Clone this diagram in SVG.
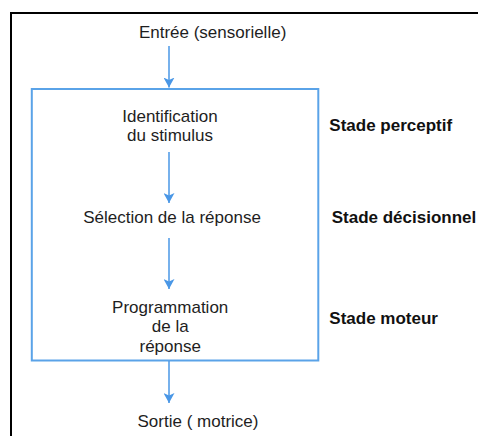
<svg xmlns="http://www.w3.org/2000/svg" width="478" height="436" viewBox="0 0 478 436">
<style>
.t{font-family:"Liberation Sans",Arial,sans-serif;font-size:17px;fill:#1e1e1e;}
.c{text-anchor:middle;}
.b{font-weight:bold;fill:#111;}
.ln{stroke:#4a97e6;stroke-width:1.5;fill:none;}
</style>
<defs>
<marker id="ah" viewBox="0 0 10 11" markerWidth="10" markerHeight="11" markerUnits="userSpaceOnUse" refX="10" refY="5.5" orient="auto">
<path d="M0,0 L10,5.5 L0,11 L2.5,5.5 z" fill="#4a97e6"/>
</marker>
</defs>
<rect x="0" y="0" width="478" height="436" fill="#fff"/>
<rect id="frame" x="11" y="13" width="490" height="460" fill="none" stroke="#000" stroke-width="2"/>
<g id="box">
<rect x="31.8" y="89" width="286.5" height="271.5" fill="none" stroke="#5aa3e8" stroke-width="2"/>
</g>
<g id="connectors">
<line class="ln" x1="169" y1="46" x2="169" y2="87.5" marker-end="url(#ah)"/>
<line class="ln" x1="169" y1="152" x2="169" y2="203" marker-end="url(#ah)"/>
<line class="ln" x1="169" y1="238" x2="169" y2="289" marker-end="url(#ah)"/>
<line class="ln" x1="169" y1="361" x2="169" y2="403" marker-end="url(#ah)"/>
</g>
<g id="entree"><text class="t c" x="212.6" y="38">Entrée (sensorielle)</text></g>
<g id="identification">
<text class="t c" x="170" y="121.7">Identification</text>
<text class="t c" x="170" y="141">du stimulus</text>
</g>
<g id="selection"><text class="t c" x="172" y="223.3">Sélection de la réponse</text></g>
<g id="programmation">
<text class="t c" x="170.2" y="312.7">Programmation</text>
<text class="t c" x="170.2" y="332">de la</text>
<text class="t c" x="170.2" y="351.5">réponse</text>
</g>
<g id="sortie"><text class="t c" x="198" y="426.7">Sortie ( motrice)</text></g>
<g id="stages">
<text class="t b" x="329.3" y="131">Stade perceptif</text>
<text class="t b" x="331.7" y="223.3">Stade décisionnel</text>
<text class="t b" x="329.3" y="324.3">Stade moteur</text>
</g>
</svg>
